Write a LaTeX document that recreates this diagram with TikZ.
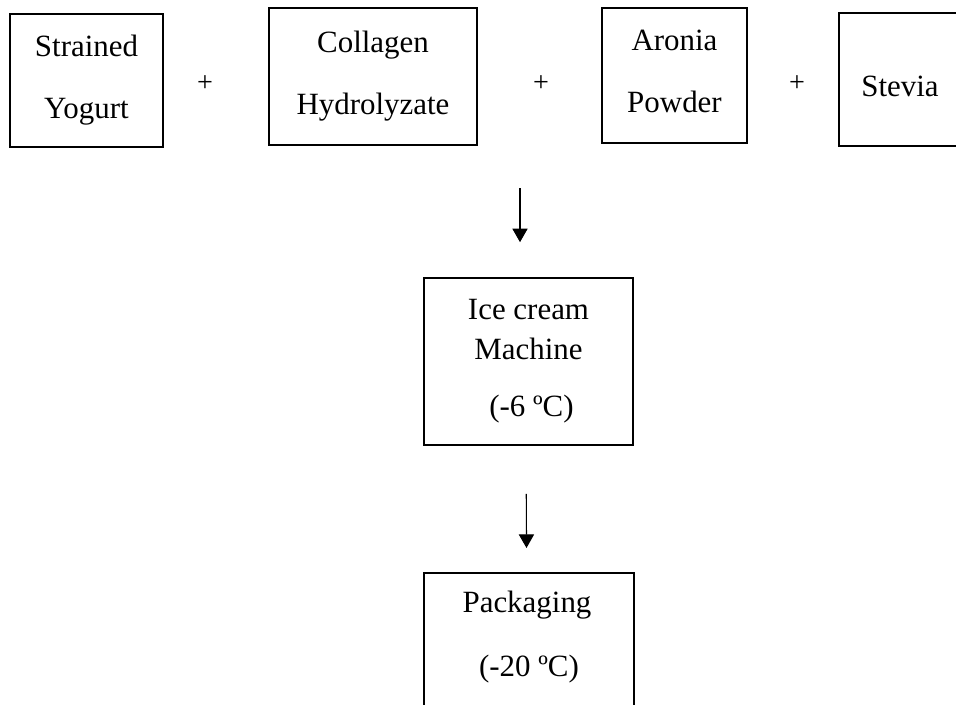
\documentclass[tikz,border=0pt]{standalone}
\usepackage{fontspec}
\setmainfont{Liberation Serif}
\usetikzlibrary{arrows.meta, positioning}

\begin{document}
\begin{tikzpicture}[
		x=0.025cm, y=-0.025cm,
		stepbox/.style={draw, rectangle, line width=1.1pt, inner sep=0pt, align=center, font=\fontsize{22}{26}\selectfont},
		steptext/.style={align=center, inner sep=0pt, font=\fontsize{22}{26}\selectfont},
		plus/.style={inner sep=0pt, font=\fontsize{20}{24}\selectfont},
		flow/.style={-{Triangle[width=0.38cm, length=0.34cm]}, line width=0.8pt}
		]
		\clip (0,0) rectangle (956,705);
		
		% Ingredients
		\node[stepbox, minimum width=3.825cm, minimum height=3.325cm] (yog) at (86.5,80.5) {Strained\\[18pt]Yogurt};
		\node[stepbox, minimum width=5.2cm, minimum height=3.425cm] (col) at (373,76.5) {Collagen\\[18pt]Hydrolyzate};
		\node[stepbox, minimum width=3.625cm, minimum height=3.375cm, text depth=6pt] (aro) at (674.5,75.5) {Aronia\\[18pt]Powder};
		\node[stepbox, minimum width=3.1cm, minimum height=3.325cm, text height=24pt, text depth=0pt] (ste) at (901,79.5) {\hspace*{-0.05cm}Stevia};
		
		\node[plus] (p1) at (205,84) {+};
		\node[plus] (p2) at (541,84) {+};
		\node[plus] (p3) at (797,84) {+};
		
		% Processing
		\node[stepbox, minimum width=5.225cm, minimum height=4.175cm] (ice) at (528.5,361.5) {Ice cream\\[2pt]Machine\\[15pt]\hspace*{0.15cm}(-6 ºC)};
		\node[stepbox, minimum width=5.25cm, minimum height=4.5cm, anchor=north] (pack) at (529,572) {};
		\node[steptext] (packtxt) at (527,637) {Packaging\\[19pt]\hspace*{0.1cm}(-20 ºC)};
		
		\coordinate (mix) at (520,188);
		\draw[flow, shorten >=0.875cm] (mix) -- (mix |- ice.north);
		\draw[flow, shorten <=1.2cm, shorten >=0.6cm] ([xshift=-0.06cm]ice.south) -- ([xshift=-0.06cm]pack.north);
		
	\end{tikzpicture}
\end{document}
